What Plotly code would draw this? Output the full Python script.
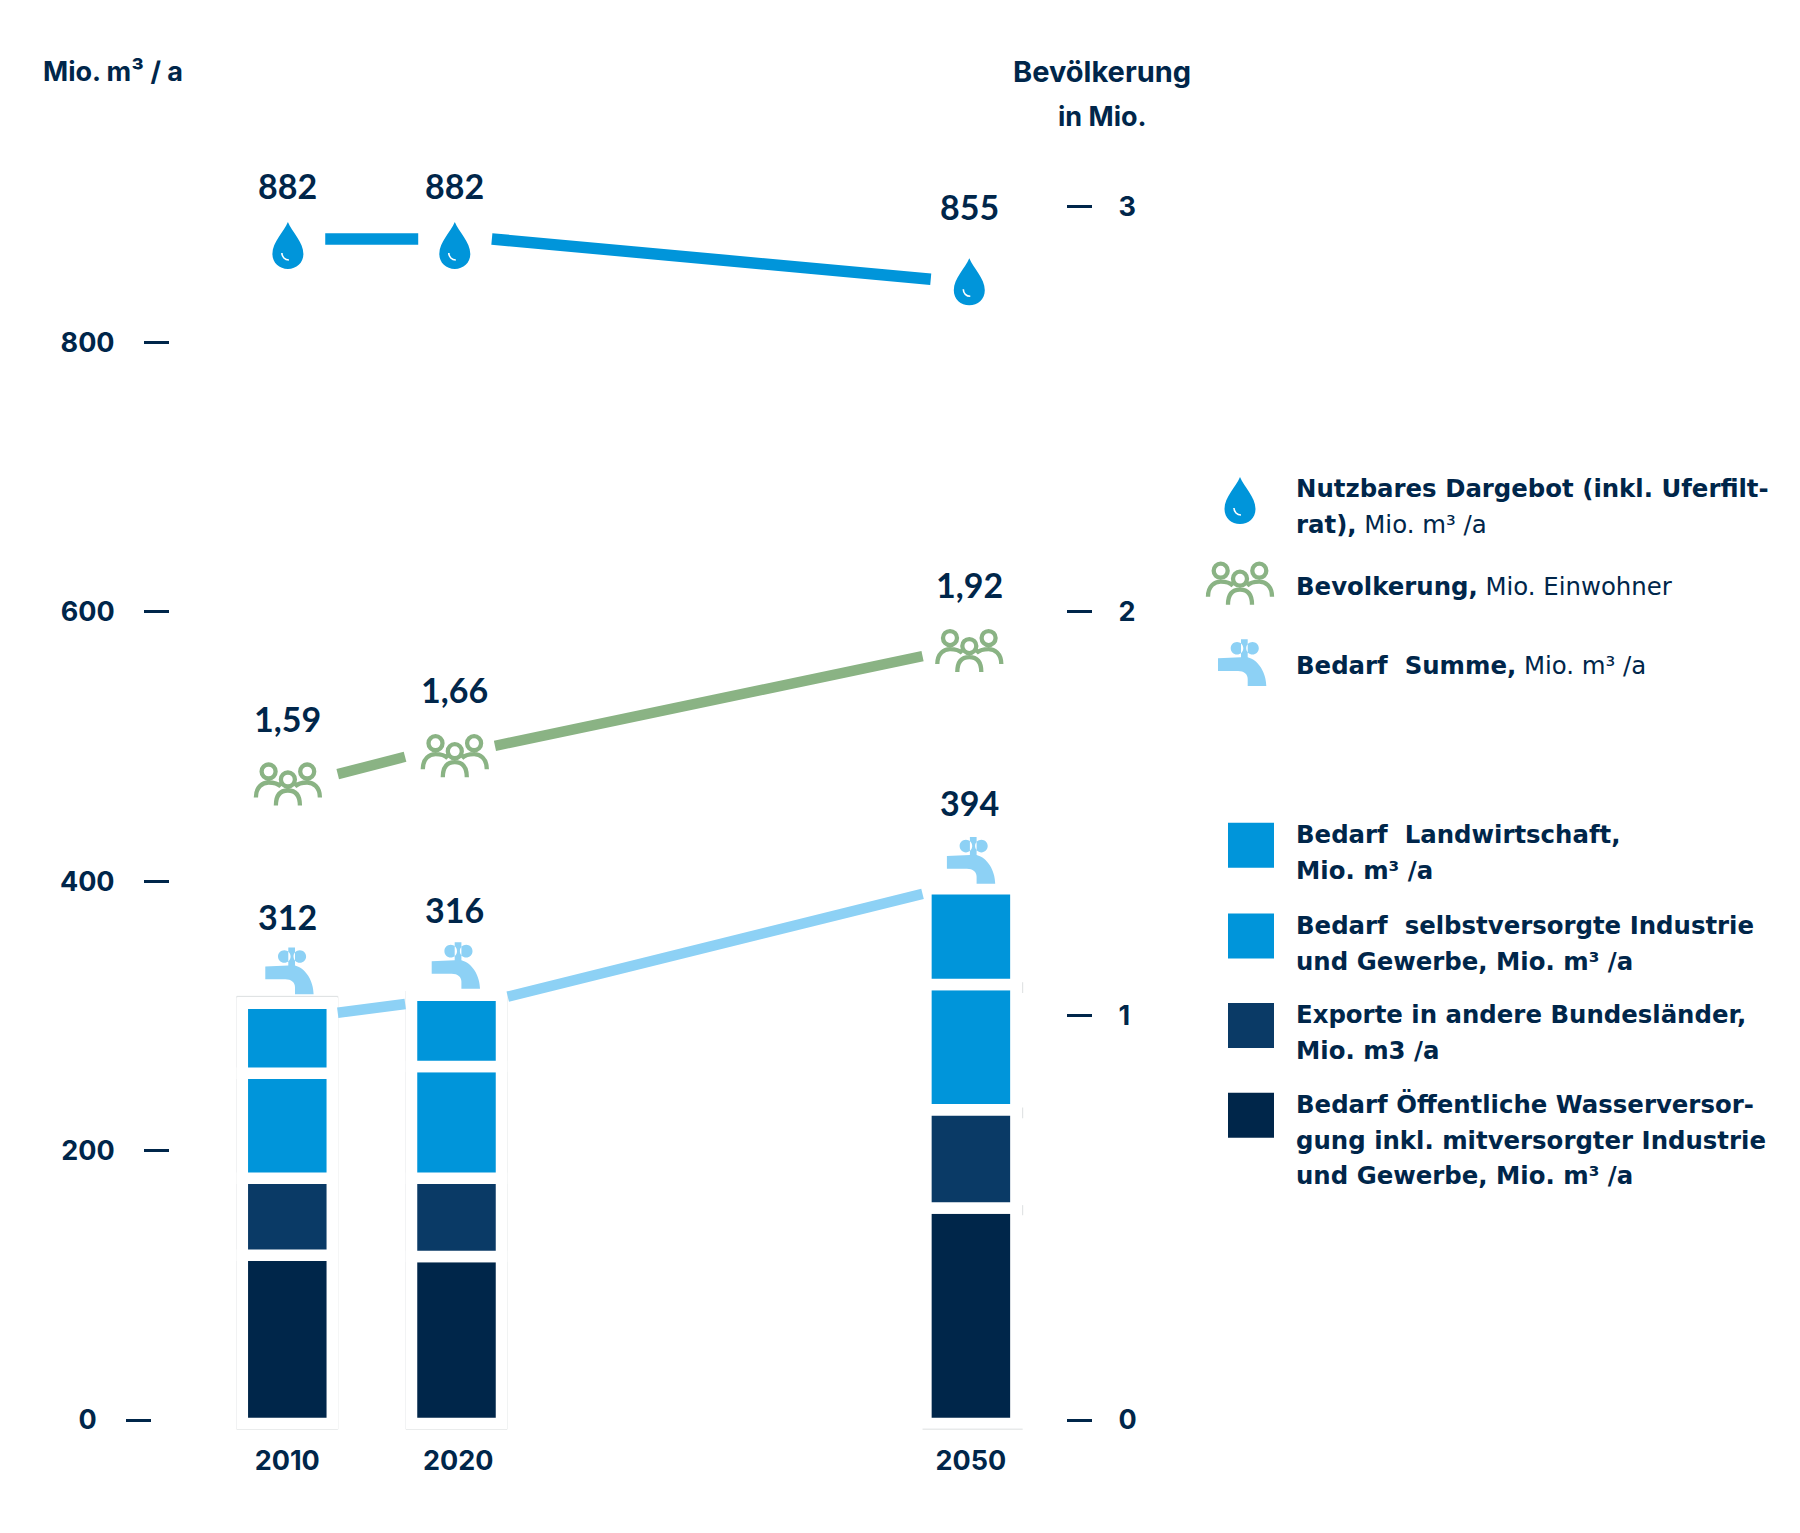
import numpy as np
import plotly.graph_objects as go

# ---------- data ----------
years = [2010, 2020, 2050]
supply = [882, 882, 855]
population = [1.59, 1.66, 1.92]
demand_total = [312, 316, 394]
demand_public = [125, 124, 160]
exports = [57, 58, 73]
demand_industry = [78, 83, 93]
demand_agri = [52, 53, 71]
supply_labels = ["882", "882", "855"]
population_labels = ["1,59", "1,66", "1,92"]
demand_labels = ["312", "316", "394"]
left_ticks = [200, 400, 600, 800]
left_zero_tick = [0]
right_ticks = [0, 1, 2, 3]

# line runs (they stop short of the icons)
supply_run_x = [2012.22, 2017.66, None, 2021.97, 2047.65]
supply_run_y = [876.8, 876.8, None, 876.8, 846.9]
pop_run_x = [2012.95, 2016.89, None, 2022.15, 2047.17]
pop_run_y = [1.597, 1.640, None, 1.667, 1.889]
demand_run_x = [2012.95, 2016.9, None, 2022.9, 2047.17]
demand_run_y = [302.4, 308.8, None, 314.3, 390.6]

legend_top = [
    ["<b>Nutzbares Dargebot (inkl. Uferfilt-</b>", "<b>rat),</b> Mio. m³ /a"],
    ["<b>Bevolkerung,</b> Mio. Einwohner"],
    ["<b>Bedarf  Summe,</b> Mio. m³ /a"],
]
legend_bars = [
    ["<b>Bedarf  Landwirtschaft,</b>", "<b>Mio. m³ /a</b>"],
    ["<b>Bedarf  selbstversorgte Industrie</b>", "<b>und Gewerbe, Mio. m³ /a</b>"],
    ["<b>Exporte in andere Bundesländer,</b>", "<b>Mio. m3 /a</b>"],
    ["<b>Bedarf Öffentliche Wasserversor-</b>", "<b>gung inkl. mitversorgter Industrie</b>", "<b>und Gewerbe, Mio. m³ /a</b>"],
]

# ---------- style / layout constants ----------
W, H = 1800, 1533
NAVY = "#00264a"
C_PUBLIC, C_EXPORT, C_BLUE, C_LIGHT, C_GREEN = "#00264a", "#0a3a66", "#0095da", "#8dd1f5", "#8ab384"
HAIR = "#dcdfe0"
TICK_FONT = dict(family="Inter", size=27, color=NAVY, weight=700)
VALUE_FONT = dict(family="Lato", size=34, color=NAVY, weight=700)
HEAD_FONT = dict(family="Inter", size=27, color=NAVY, weight=700)
HEAD_FONT_WIDE = dict(family="Inter", size=29, color=NAVY, weight=700)
LEG_FONT = dict(family="DejaVu Sans", size=24.4, color=NAVY)

PX_PER_YEAR = 17.09
X0_PX = 287.3
x_range = [2010 - X0_PX / PX_PER_YEAR, 2010 + (W - X0_PX) / PX_PER_YEAR]
ZERO_PX = 1420.0
PX_LEFT = 1.347
PX_RIGHT = 404.4
y_range = [-(H - ZERO_PX) / PX_LEFT, ZERO_PX / PX_LEFT]
y2_range = [-(H - ZERO_PX) / PX_RIGHT, ZERO_PX / PX_RIGHT]
BAR_BASE = -2.6
BAR_W = 90 / PX_PER_YEAR
BOX_W = 101 / PX_PER_YEAR
COL_NUDGE_PX = [0, -1.7, 0]      # the columns are not quite evenly spaced on the time scale
ICON_NUDGE_PX = [0.6, -3.4, -1.6]

fig = go.Figure()

# pale frames behind the columns of 2010 and 2020
fig.add_trace(go.Bar(
    x=years[:2], y=[t + 9.4 for t in demand_total[:2]], base=BAR_BASE - 4.3, width=BOX_W,
    offset=[-BOX_W / 2 + n / PX_PER_YEAR for n in COL_NUDGE_PX[:2]],
    marker=dict(color="white", line=dict(color=HAIR, width=1)), showlegend=False, hoverinfo="skip"))
# the 2050 frame only shows its foot and some stubs at the right
frame_x = [2047.17, 2053.03, None, 2053.03, 2053.03, None, 2053.03, 2053.03, None, 2053.03, 2053.03]
frame_y = [-6.8, -6.8, None, 317, 325, None, 224, 232, None, 152, 159.5]
fig.add_trace(go.Scatter(x=frame_x, y=frame_y, mode="lines", line=dict(color=HAIR, width=1),
                         showlegend=False, hoverinfo="skip"))

stack = [("Bedarf Öffentliche Wasserversorgung", demand_public, C_PUBLIC),
         ("Exporte in andere Bundesländer", exports, C_EXPORT),
         ("Bedarf selbstversorgte Industrie und Gewerbe", demand_industry, C_BLUE),
         ("Bedarf Landwirtschaft", demand_agri, C_BLUE)]
base = np.full(3, BAR_BASE, dtype=float)
for name, vals, col in stack:
    fig.add_trace(go.Bar(x=years, y=vals, base=base.copy(), width=BAR_W, name=name, showlegend=False,
                         offset=[-BAR_W / 2 + n / PX_PER_YEAR for n in COL_NUDGE_PX],
                         marker=dict(color=col, line=dict(color="white", width=11.5))))
    base += np.array(vals, dtype=float)

fig.add_trace(go.Scatter(x=supply_run_x, y=supply_run_y, mode="lines", name="Nutzbares Dargebot",
                         line=dict(color=C_BLUE, width=11.5), showlegend=False))
fig.add_trace(go.Scatter(x=demand_run_x, y=demand_run_y, mode="lines", name="Bedarf Summe",
                         line=dict(color=C_LIGHT, width=10.5), showlegend=False))
fig.add_trace(go.Scatter(x=pop_run_x, y=pop_run_y, mode="lines", name="Bevölkerung", yaxis="y2",
                         line=dict(color=C_GREEN, width=10.5), showlegend=False))
# carrier for the separately placed 0 tick
fig.add_trace(go.Scatter(x=[2010], y=left_zero_tick, mode="markers", yaxis="y3", marker=dict(opacity=0),
                         showlegend=False, hoverinfo="skip"))


# ---------- icons: vector paths in pixels, y-down local coordinates ----------
def path(cmds, dx=0.0, dy=0.0):
    out = []
    for c in cmds:
        if c[0] == "Z":
            out.append("Z")
            continue
        pts = c[1:]
        xy = [f"{pts[i] + dx:.2f},{-(pts[i + 1] + dy):.2f}" for i in range(0, len(pts), 2)]
        out.append(c[0] + " ".join(xy))
    return " ".join(out)


def circle(cx, cy, r):
    k = 0.5523 * r
    return [("M", cx - r, cy),
            ("C", cx - r, cy - k, cx - k, cy - r, cx, cy - r),
            ("C", cx + k, cy - r, cx + r, cy - k, cx + r, cy),
            ("C", cx + r, cy + k, cx + k, cy + r, cx, cy + r),
            ("C", cx - k, cy + r, cx - r, cy + k, cx - r, cy), ("Z",)]


DROP = [("M", 0, -24), ("C", 4, -14, 15.5, -4, 15.5, 8), ("C", 15.5, 17, 8.5, 23, 0, 23),
        ("C", -8.5, 23, -15.5, 17, -15.5, 8), ("C", -15.5, -4, -4, -14, 0, -24), ("Z",)]
DROP_SHINE = [("M", -6, 7), ("C", -6, 11, -3, 14, 1, 14)]
PEOPLE = (circle(-19.3, -13, 7) + circle(19.3, -13, 7) + circle(0, -5, 7) +
          [("M", -32, 13), ("C", -32, 2, -25, -2, -19.3, -2), ("C", -15, -2, -10, -1, -7, 2),
           ("M", 32, 13), ("C", 32, 2, 25, -2, 19.3, -2), ("C", 15, -2, 10, -1, 7, 2),
           ("M", -12, 21), ("C", -12, 10, -7, 6, 0, 6), ("C", 7, 6, 12, 10, 12, 21)])
TAP = ([("M", -24, -4.7), ("L", -1, -5.7), ("L", -1, -23.7), ("L", 5.7, -23.7), ("L", 5.7, -5.7),
        ("C", 16.7, -3, 24.3, 10.3, 24.3, 23), ("L", 5.7, 23), ("L", 5.7, 16),
        ("C", 5.7, 11, 2, 8, -4, 8), ("L", -24, 8), ("Z",)] +
       circle(-5, -14.7, 6.3) + circle(10.5, -14.7, 6.3))

shapes = []


def icon(kind, xref, yref, xa, ya, dy, dx=0.0):
    common = dict(type="path", layer="above", xref=xref, yref=yref, xsizemode="pixel", ysizemode="pixel",
                  xanchor=xa, yanchor=ya)
    if kind == "drop":
        shapes.append(dict(path=path(DROP, dx, dy), fillcolor=C_BLUE, line=dict(width=0), **common))
        shapes.append(dict(path=path(DROP_SHINE, dx, dy), line=dict(color="white", width=1.6), **common))
    elif kind == "people":
        shapes.append(dict(path=path(PEOPLE, dx, dy), line=dict(color=C_GREEN, width=4.3), **common))
    else:
        shapes.append(dict(path=path(TAP, dx, dy), fillcolor=C_LIGHT, line=dict(width=0), **common))


for yr, v, n in zip(years, supply, ICON_NUDGE_PX):
    icon("drop", "x", "y", yr, v, 14, n)
for yr, v, n in zip(years, population, ICON_NUDGE_PX):
    icon("people", "x", "y2", yr, v, 7.5, n)
for yr, v, n in zip(years, demand_total, [2, -2.5, 0]):
    icon("tap", "x", "y", yr, v, -28.5, n)

fx = lambda px: px / W
fy = lambda py: 1 - py / H
icon("drop", "paper", "paper", fx(1240), fy(501), 0)
icon("people", "paper", "paper", fx(1240), fy(583.7), 0)
icon("tap", "paper", "paper", fx(1242), fy(663), 0)

for py0, col in zip([822.7, 913.5, 1003, 1092.7], [C_BLUE, C_BLUE, C_EXPORT, C_PUBLIC]):
    shapes.append(dict(type="rect", xref="paper", yref="paper", x0=fx(1228), x1=fx(1274),
                       y0=fy(py0 + 45), y1=fy(py0), fillcolor=col, line=dict(width=0), layer="above"))

# ---------- texts ----------
ann = []


def text(t, px, py, font, xanchor="center"):
    ann.append(dict(text=t, x=fx(px), y=fy(py), xref="paper", yref="paper", showarrow=False,
                    xanchor=xanchor, yanchor="middle", font=font))


def value_label(t, yr, v, yref, shift, xshift):
    ann.append(dict(text=t, x=yr, y=v, xref="x", yref=yref, yshift=shift, xshift=xshift, showarrow=False,
                    xanchor="center", yanchor="middle", font=VALUE_FONT))


for t, yr, v, s, n in zip(supply_labels, years, supply, [46.5, 46.5, 62], ICON_NUDGE_PX):
    value_label(t, yr, v, "y", s, n)
for t, yr, v, n in zip(population_labels, years, population, ICON_NUDGE_PX):
    value_label(t, yr, v, "y2", 59, n)
for t, yr, v, s, n in zip(demand_labels, years, demand_total, [83.5, 85, 87], ICON_NUDGE_PX):
    value_label(t, yr, v, "y", s, n)

text("Mio. m³ / a", 113, 71.5, HEAD_FONT)
text("Bevölkerung", 1102, 71.5, HEAD_FONT_WIDE)
text("in Mio.", 1102, 116, HEAD_FONT)

LEG_X = 1294
for lines, ys in zip(legend_top + legend_bars,
                     [[488, 524], [586], [665.5], [834.5, 870.5], [925.5, 961.5], [1014.5, 1050.5],
                      [1104, 1140, 1175]]):
    for line, py in zip(lines, ys):
        text(line, LEG_X, py, LEG_FONT, "left")

AXIS_COMMON = dict(tickmode="array", ticks="outside", ticklen=25, tickwidth=3, tickcolor=NAVY,
                   showgrid=False, zeroline=False, showline=False, tickfont=TICK_FONT)
fig.update_layout(
    width=W, height=H, autosize=False, margin=dict(l=0, r=0, t=0, b=0),
    paper_bgcolor="white", plot_bgcolor="white", barmode="overlay", showlegend=False,
    shapes=shapes, annotations=ann,
    xaxis=dict(range=x_range, domain=[0, 1], anchor="free", position=(H - 1442.3) / H, tickmode="array",
               tickvals=years, ticktext=[str(y) for y in years], ticks="", showgrid=False, zeroline=False,
               showline=False, tickfont=TICK_FONT),
    yaxis=dict(range=y_range, domain=[0, 1], anchor="free", position=169 / W, side="left", ticklabelstandoff=24,
               tickvals=left_ticks, ticktext=[str(v) for v in left_ticks], **AXIS_COMMON),
    yaxis2=dict(range=y2_range, overlaying="y", anchor="free", position=1066 / W, side="right", ticklabelstandoff=21,
                tickvals=right_ticks, ticktext=[str(v) for v in right_ticks], **AXIS_COMMON),
    yaxis3=dict(range=y_range, overlaying="y", anchor="free", position=151 / W, side="left", ticklabelstandoff=24,
                tickvals=left_zero_tick, ticktext=[str(v) for v in left_zero_tick], **AXIS_COMMON),
)

fig.write_html("out.html", config=dict(displayModeBar=False), post_script="document.body.style.margin='0';")
